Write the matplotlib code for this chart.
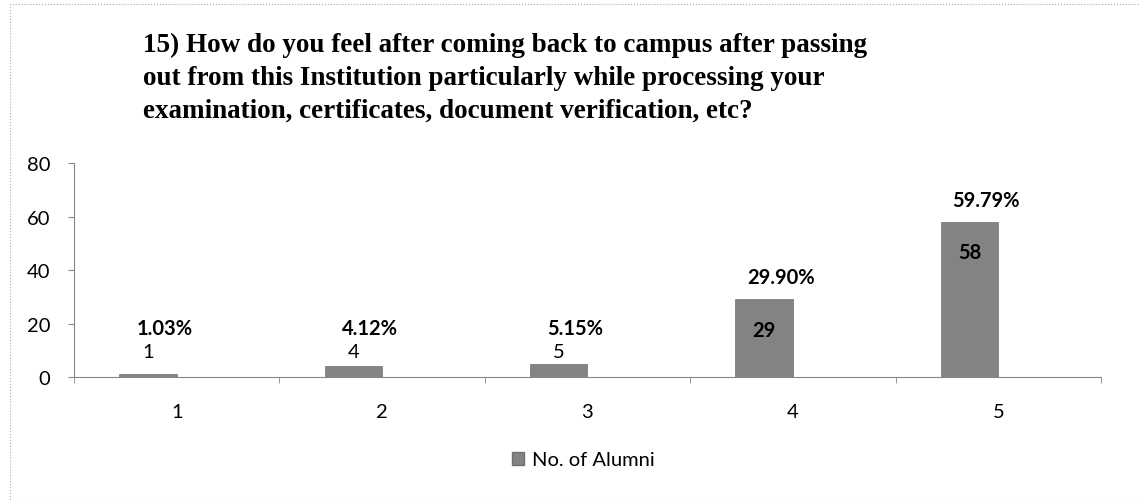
import numpy as np
import matplotlib.pyplot as plt
from matplotlib.patches import Rectangle, Patch

plt.rcParams['font.family'] = ['Lato', 'DejaVu Sans']

categories = ['1', '2', '3', '4', '5']
alumni = [1, 4, 5, 29, 58]
percents = ['1.03%', '4.12%', '5.15%', '29.90%', '59.79%']
title = ('15) How do you feel after coming back to campus after passing\n'
         'out from this Institution particularly while processing your\n'
         'examination, certificates, document verification, etc?')

fig = plt.figure(figsize=(11.4, 5.02), dpi=100)
ax = fig.add_axes([0.0649, 0.247, 0.9009, 0.426])

x = np.arange(len(categories))
bw = 0.28
bar_color = '#838383'
ax.bar(x - bw / 2, alumni, width=bw, color=bar_color, edgecolor='#707070',
       linewidth=0.5, label='No. of Alumni')

# small bars: labels sit above the bar, big bars: count inside the bar
for xi, v, p in zip(x, alumni, percents):
    if v < 10:
        ax.text(xi - bw / 2, 9.5, str(v), ha='center', va='center',
                fontsize=14.5)
        ax.text(xi - bw / 2 + 0.08, 18.5, p, ha='center', va='center',
                fontsize=14.5, fontweight='bold')
    else:
        ax.text(xi - bw / 2, v - 11.3, str(v), ha='center', va='center',
                fontsize=14.5, fontweight='bold')
        ax.text(xi - bw / 2 + 0.08, v + 8.3, p, ha='center', va='center',
                fontsize=14.5, fontweight='bold')

ax.set_xlim(-0.5, len(categories) - 0.5)
ax.set_ylim(0, 80)
ax.set_yticks([0, 20, 40, 60, 80])
ax.set_xticks(x)
ax.set_xticklabels(categories)
ax.set_xticks(np.arange(-0.5, len(categories)), minor=True)
ax.tick_params(axis='x', which='major', length=0, pad=19, labelsize=14.5)
ax.tick_params(axis='x', which='minor', length=4, color='#888888')
ax.tick_params(axis='y', length=4, color='#888888', pad=13, labelsize=14.5)
for s in ['top', 'right']:
    ax.spines[s].set_visible(False)
for s in ['left', 'bottom']:
    ax.spines[s].set_color('#888888')
    ax.spines[s].set_linewidth(0.8)

fig.text(143 / 1140, 1 - 33 / 502, title, ha='left', va='top',
         fontsize=19.5, fontweight='bold', family='Liberation Serif',
         linespacing=1.4)

fig.legend(handles=[Patch(facecolor=bar_color, edgecolor='#707070',
                          label='No. of Alumni')],
           loc='center', bbox_to_anchor=(583 / 1140, 1 - 461 / 502),
           frameon=False, fontsize=14.5, handlelength=0.6,
           handleheight=0.6, handletextpad=0.4)

fig.patches.append(Rectangle((10 / 1140, 0), 1.2, 1 - 5 / 502,
                             transform=fig.transFigure, fill=False,
                             edgecolor='#aaaaaa', linewidth=0.8,
                             linestyle=':'))

fig.savefig('out.png', dpi=100)
